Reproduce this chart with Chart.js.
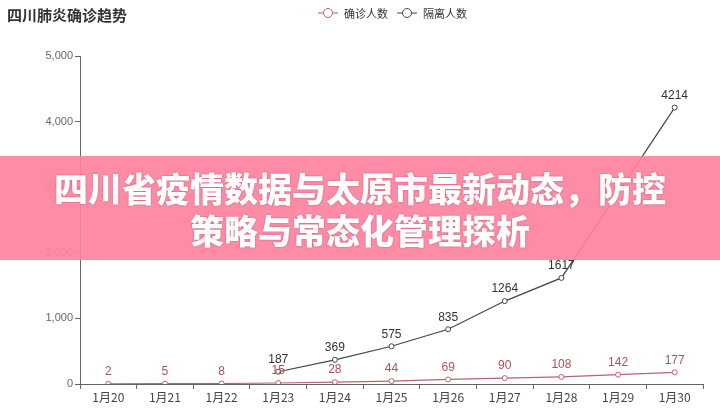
<!DOCTYPE html>
<html>
<head>
<meta charset="utf-8">
<script src="https://cdn.jsdelivr.net/npm/chart.js@4"></script>
<style>
  body { margin: 0; background: #fff; font-family: "Noto Sans CJK SC", "Noto Sans", sans-serif; }
  .wrap { position: relative; width: 720px; height: 418px; overflow: hidden; }
  .title { position: absolute; left: 7px; top: 4px; font-size: 15px; font-weight: bold; color: #333; }
  .legend { position: absolute; top: 5px; left: 318px; font-size: 11px; color: #333; display: flex; align-items: center; }
  .legend span { display: inline-flex; align-items: center; margin-right: 9px; }
  .legend svg { margin-right: 6px; }
  .banner { position: absolute; left: 0; top: 156px; width: 720px; height: 104px;
    background: rgba(255, 130, 158, 0.92); color: #fff; text-align: center;
    font-size: 34px; font-weight: 900; line-height: 42px; padding-top: 11px; box-sizing: border-box;
    text-shadow: 0 0 2px rgba(110, 20, 40, 0.45); letter-spacing: 0; white-space: nowrap; }
</style>
</head>
<body>
<div class="wrap">
  <canvas id="c" width="720" height="418"></canvas>
  <div class="title">四川肺炎确诊趋势</div>
  <div class="legend">
    <span><svg width="20" height="12"><line x1="0" y1="6" x2="20" y2="6" stroke="#b9636b" stroke-width="1"/><circle cx="10" cy="6" r="4.5" fill="#fff" stroke="#b9636b"/></svg>确诊人数</span>
    <span><svg width="20" height="12"><line x1="0" y1="6" x2="20" y2="6" stroke="#3f4747" stroke-width="1"/><circle cx="10" cy="6" r="4.5" fill="#fff" stroke="#3f4747"/></svg>隔离人数</span>
  </div>
  <div class="banner">四川省疫情数据与太原市最新动态，防控<br>策略与常态化管理探析</div>
</div>
<script>
const days = ['1月20', '1月21', '1月22', '1月23', '1月24', '1月25', '1月26', '1月27', '1月28', '1月29', '1月30'];
const confirmed = [2, 5, 8, 15, 28, 44, 69, 90, 108, 142, 177];
const isolated = [null, null, null, 187, 369, 575, 835, 1264, 1617, null, 4214];

const redColor = '#b9636b';
const darkColor = '#3f4747';

// draws the value above each point
const valueLabels = {
  id: 'valueLabels',
  afterDatasetsDraw(chart) {
    const ctx = chart.ctx;
    ctx.save();
    ctx.font = '12px "Liberation Sans", Arial, sans-serif';
    ctx.textAlign = 'center';
    ctx.textBaseline = 'bottom';
    chart.data.datasets.forEach((ds, i) => {
      const meta = chart.getDatasetMeta(i);
      ctx.fillStyle = ds.labelColor;
      meta.data.forEach((pt, j) => {
        const v = ds.data[j];
        if (v === null) return;
        ctx.fillText(v, pt.x, pt.y - 6);
      });
    });
    ctx.restore();
  }
};

new Chart(document.getElementById('c').getContext('2d'), {
  type: 'line',
  data: {
    labels: days,
    datasets: [
      {
        label: '确诊人数',
        data: confirmed,
        borderColor: redColor,
        backgroundColor: '#fff',
        borderWidth: 1.2,
        pointRadius: 2.5,
        pointBorderWidth: 1,
        labelColor: '#b0505a',
        fill: false,
        tension: 0
      },
      {
        label: '隔离人数',
        data: isolated,
        borderColor: darkColor,
        backgroundColor: '#fff',
        borderWidth: 1.2,
        pointRadius: 2.5,
        pointBorderWidth: 1,
        labelColor: '#333',
        spanGaps: true,
        fill: false,
        tension: 0
      }
    ]
  },
  options: {
    responsive: false,
    animation: false,
    layout: { padding: { top: 56, right: 17, left: 0, bottom: 0 } },
    plugins: {
      legend: { display: false },
      tooltip: { enabled: false }
    },
    scales: {
      x: {
        offset: true,
        grid: { offset: true, drawOnChartArea: false, tickLength: 5, color: '#666' },
        border: { color: '#666' },
        ticks: { color: '#444', font: { size: 12, family: '"Noto Sans CJK SC", sans-serif' }, padding: 1, maxRotation: 0, autoSkip: false },
        afterFit(scale) { scale.height = 34; }
      },
      y: {
        min: 0,
        max: 5000,
        grid: { drawOnChartArea: false, tickLength: 5, color: '#666' },
        border: { color: '#666' },
        ticks: { stepSize: 1000, color: '#666', font: { size: 11, family: '"Liberation Sans", Arial, sans-serif' }, padding: 2 },
        afterFit(scale) { scale.width = 80; }
      }
    }
  },
  plugins: [valueLabels]
});
</script>
</body>
</html>
